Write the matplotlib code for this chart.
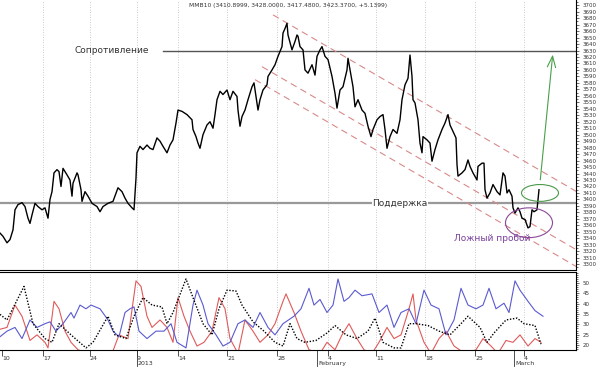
import matplotlib
matplotlib.use("Agg")
import matplotlib.pyplot as plt
from matplotlib.patches import Ellipse
from matplotlib.ticker import MultipleLocator

# price (bar index, close)
price_x = [0, 3, 7, 10, 13, 15, 18, 22, 25, 28, 30, 32, 35, 38, 42, 45, 48, 50, 52, 54,
           57, 59, 61, 63, 67, 70, 72, 73, 77, 78, 81, 82, 85, 88, 92, 97, 100, 103, 108, 113,
           118, 122, 125, 128, 132, 134, 136, 137, 140, 143, 147, 150, 153, 157, 160, 163, 167, 170, 173, 176,
           178, 182, 187, 192, 193, 196, 198, 200, 203, 207, 210, 213, 215, 217, 220, 223, 227, 230, 233, 237,
           238, 240, 242, 245, 248, 252, 254, 257, 258, 260, 263, 267, 268, 272, 275, 278, 282, 283, 285, 287,
           288, 292, 295, 297, 298, 300, 303, 305, 308, 312, 315, 317, 320, 322, 325, 328, 332, 335, 337, 340,
           343, 347, 348, 350, 353, 355, 358, 362, 365, 368, 371, 373, 377, 380, 383, 385, 387, 390, 393, 397,
           400, 402, 405, 408, 410, 412, 413, 415, 418, 420, 422, 423, 427, 430, 432, 435, 438, 442, 445, 448,
           450, 453, 456, 457, 458, 462, 465, 468, 470, 473, 477, 478, 482, 484, 485, 487, 490, 493, 497, 500,
           503, 505, 507, 509, 512, 513, 515, 518, 520, 522, 525, 528, 530, 532, 534, 537, 538, 539]
price = [3348, 3343, 3333, 3338, 3353, 3384, 3392, 3395, 3389, 3371, 3363, 3376, 3394, 3389, 3384, 3387, 3371, 3400, 3412, 3441,
         3446, 3443, 3420, 3448, 3438, 3430, 3405, 3425, 3441, 3438, 3415, 3397, 3412, 3405, 3394, 3389, 3381, 3389, 3394, 3397,
         3418, 3412, 3402, 3394, 3387, 3384, 3433, 3472, 3482, 3477, 3484, 3479, 3477, 3495, 3490, 3482, 3472, 3484, 3492, 3518,
         3538, 3536, 3531, 3523, 3508, 3497, 3487, 3479, 3500, 3515, 3520, 3510, 3531, 3554, 3567, 3562, 3569, 3554, 3567, 3559,
         3538, 3513, 3528, 3538, 3554, 3574, 3580, 3549, 3538, 3554, 3569, 3577, 3590, 3600, 3608, 3621, 3636, 3657, 3664, 3672,
         3654, 3631, 3644, 3654, 3652, 3636, 3631, 3600, 3595, 3608, 3592, 3621, 3631, 3636, 3621, 3616, 3590, 3564, 3541, 3569,
         3574, 3600, 3618, 3600, 3574, 3543, 3554, 3538, 3533, 3513, 3497, 3508, 3523, 3528, 3531, 3508, 3479, 3497, 3508, 3502,
         3523, 3554, 3577, 3587, 3623, 3590, 3554, 3549, 3523, 3487, 3472, 3497, 3492, 3487, 3459, 3477, 3492, 3508, 3518, 3531,
         3515, 3505, 3495, 3454, 3436, 3441, 3446, 3461, 3451, 3441, 3430, 3451, 3456, 3456, 3415, 3402, 3410, 3423, 3412, 3407,
         3441, 3436, 3410, 3415, 3405, 3387, 3379, 3387, 3381, 3371, 3369, 3356, 3358, 3384, 3381, 3384, 3400, 3415]

# indicator panel (ADX black, +DI blue, -DI red)
adx_x = [0, 7, 24, 33, 45, 52, 59, 71, 86, 93, 108, 115, 126, 134, 143, 152, 162, 167, 173, 186,
         193, 203, 212, 219, 227, 236, 242, 253, 264, 275, 283, 290, 297, 305, 316, 327, 335, 346, 357, 368,
         375, 383, 394, 401, 409, 416, 428, 439, 450, 461, 468, 480, 487, 494, 506, 517, 524, 535, 541]
adx = [34.8, 32.1, 48.3, 30.3, 23.1, 21.3, 30.3, 24.9, 18.6, 21.3, 33.9, 24.9, 23.1, 33.9, 42.9, 39.3, 38.4, 30.3, 35.7, 51.9,
       42.9, 30.3, 24.9, 37.5, 46.5, 46.1, 39.3, 31.2, 26.7, 21.3, 19.5, 30.3, 23.1, 21.3, 22.2, 25.8, 29.4, 24.9, 23.1, 26.7,
       33.0, 21.3, 18.6, 18.6, 30.3, 30.3, 29.4, 26.7, 24.9, 30.3, 33.9, 28.5, 21.3, 25.8, 32.1, 33.0, 30.3, 29.4, 20.4]
pdi_x = [0, 7, 15, 22, 30, 37, 45, 50, 56, 63, 71, 74, 80, 86, 91, 100, 108, 113, 119, 125,
         130, 134, 139, 147, 156, 164, 171, 177, 186, 193, 197, 203, 208, 216, 223, 230, 238, 245, 253, 260,
         268, 275, 283, 294, 301, 309, 314, 320, 327, 333, 338, 344, 349, 355, 362, 372, 379, 387, 394, 401,
         409, 416, 424, 431, 439, 446, 454, 461, 468, 476, 483, 489, 496, 504, 509, 515, 520, 528, 535, 543]
pdi = [24.0, 26.7, 28.5, 23.1, 32.1, 28.5, 30.3, 31.2, 26.7, 30.3, 35.7, 33.0, 39.3, 37.5, 39.3, 37.5, 32.1, 26.7, 24.0, 35.7,
       37.5, 38.4, 26.7, 23.1, 26.7, 26.7, 30.3, 21.3, 18.6, 39.3, 46.5, 39.3, 30.3, 24.9, 19.5, 21.3, 30.3, 32.1, 28.5, 35.7,
       28.5, 24.9, 30.3, 33.9, 37.5, 47.4, 39.3, 42.0, 35.7, 39.3, 51.9, 41.1, 42.9, 46.5, 43.8, 44.7, 35.7, 39.3, 28.5, 35.7,
       37.5, 30.3, 46.5, 39.3, 37.5, 24.9, 32.1, 47.4, 39.3, 37.5, 39.3, 47.4, 37.5, 40.2, 35.7, 51.0, 46.5, 41.1, 36.6, 33.9]
mdi_x = [0, 7, 15, 22, 30, 37, 45, 48, 54, 59, 65, 71, 78, 89, 100, 112, 119, 128, 136, 141,
         147, 152, 160, 167, 173, 178, 184, 190, 197, 204, 212, 219, 225, 230, 238, 245, 253, 260, 268, 275,
         283, 286, 294, 301, 309, 320, 327, 335, 342, 349, 357, 364, 372, 379, 387, 394, 401, 409, 413, 416,
         424, 431, 439, 446, 454, 465, 476, 483, 491, 498, 506, 513, 520, 528, 535, 541]
mdi = [27.6, 28.5, 39.3, 33.9, 22.2, 24.9, 21.3, 18.6, 41.1, 37.5, 26.7, 21.3, 17.7, 15.9, 15.9, 15.9, 24.9, 23.1, 51.0, 48.3,
       33.9, 28.5, 32.1, 28.5, 21.3, 42.9, 33.9, 26.7, 19.5, 21.3, 26.7, 42.9, 37.5, 23.1, 15.9, 32.1, 26.7, 21.3, 24.9, 30.3,
       41.1, 44.7, 35.7, 26.7, 17.7, 15.9, 21.3, 17.7, 24.9, 30.3, 23.1, 17.7, 15.9, 21.3, 28.5, 23.1, 24.9, 37.5, 44.7, 32.1,
       21.3, 15.9, 23.1, 26.7, 19.5, 15.9, 17.7, 23.1, 19.5, 15.9, 22.2, 21.3, 24.9, 19.5, 23.1, 21.3]

# annotations
resistance = 3630
support = 3394
channel_x = [[273, 580], [262, 580], [255, 580]]
channel_y = [[3685, 3409], [3605, 3319], [3585, 3293]]
date_pos = [2, 43, 90, 137, 178, 227, 277, 328, 376, 425, 475, 524]
date_lbl = ['10', '17', '24', '9', '14', '21', '28', '4', '11', '18', '25', '4']
month_pos = [137, 317, 514]
month_lbl = ['2013', 'February', 'March']

fig = plt.figure(figsize=(6, 3.68), dpi=100)
ax = fig.add_axes([0, 0.2663, 0.96, 0.7337])
ax2 = fig.add_axes([0, 0.049, 0.96, 0.212])

for a in (ax, ax2):
    a.set_xlim(0, 576)
    for p in date_pos[1:]:
        a.axvline(p, color='#bbbbbb', lw=0.6, ls=(0, (1, 2)), zorder=0)
    a.spines['top'].set_visible(False)
    a.spines['left'].set_visible(False)
    a.spines['right'].set_linewidth(0.8)
    a.spines['bottom'].set_linewidth(0.8)
    a.yaxis.tick_right()
    a.tick_params(axis='y', labelsize=4.0, length=2, width=0.5, pad=2.5, colors='#333333')
    a.tick_params(axis='y', which='minor', length=1.2, width=0.4)

# upper panel
ax.set_ylim(3291, 3708)
ax.set_yticks(range(3300, 3701, 10))
ax.yaxis.set_minor_locator(MultipleLocator(5))
ax.set_xticks([])
ax.axhline(support, color='#999999', lw=1.6, zorder=1)
ax.plot([163, 576], [resistance, resistance], color='#555555', lw=1.0, zorder=1)
for cx, cy in zip(channel_x, channel_y):
    ax.plot(cx, cy, color='#d88a8a', lw=0.8, ls=(0, (6, 4)), zorder=2)
ax.plot(price_x, price, color='black', lw=1.0, zorder=3)

ax.text(112, resistance, 'Сопротивление', fontsize=6.5, color='#333333', ha='center', va='center')
ax.text(400, support, 'Поддержка', fontsize=6.5, color='#333333', ha='center', va='center',
        bbox=dict(facecolor='white', edgecolor='none', pad=0.5), zorder=4)
ax.text(492, 3340, 'Ложный пробой', fontsize=6.5, color='#7a3f9a', ha='center', va='center')
ax.add_patch(Ellipse((529, 3364), 47, 46, fill=False, edgecolor='#8a4a9a', lw=0.8, zorder=4))
ax.add_patch(Ellipse((540, 3410), 37, 26, fill=False, edgecolor='#4a9a4a', lw=0.8, zorder=4))
ax.annotate('', xy=(553, 3628), xytext=(540, 3426),
            arrowprops=dict(arrowstyle='->,head_length=0.8,head_width=0.3', color='#4aa04a', lw=0.8), zorder=5)

fig.text(0.48, 0.992, 'MMB10 (3410.8999, 3428.0000, 3417.4800, 3423.3700, +5.1399)',
         fontsize=4.3, color='#333333', ha='center', va='top')

# lower panel
ax2.set_ylim(17.6, 55.3)
ax2.set_yticks(range(20, 51, 5))
ax2.yaxis.set_minor_locator(MultipleLocator(1))
ax2.spines['top'].set_visible(True)
ax2.spines['top'].set_linewidth(0.8)
ax2.plot(mdi_x, mdi, color='#e05a5a', lw=0.8)
ax2.plot(pdi_x, pdi, color='#5a5ad0', lw=0.8)
ax2.plot(adx_x, adx, color='black', lw=1.0, ls=(0, (1, 1.2)))

ax2.set_xticks(date_pos, date_lbl, ha='left')
ax2.tick_params(axis='x', labelsize=4.5, length=4, width=0.6, pad=0.5, colors='#333333')
for p, lbl in zip(month_pos, month_lbl):
    ax2.plot([p, p], [0, -0.2], color='#333333', lw=0.6, transform=ax2.get_xaxis_transform(), clip_on=False)
    ax2.text(p + 1, -0.17, lbl, fontsize=4.5, color='#333333', ha='left', va='center',
             transform=ax2.get_xaxis_transform())

fig.savefig('out.png', dpi=100)
